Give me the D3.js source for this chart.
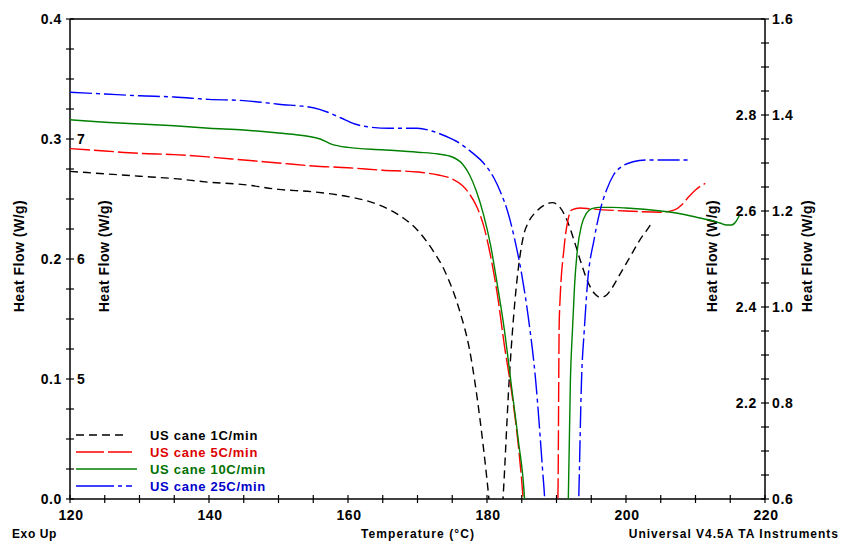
<!DOCTYPE html>
<html>
<head>
<meta charset="utf-8">
<script src="https://cdn.jsdelivr.net/npm/d3@7"></script>
<style>
  body { margin: 0; background: #fff; }
  svg { display: block; font-family: "Liberation Sans", Arial, sans-serif; font-weight: bold; }
</style>
</head>
<body>
<svg id="chart" width="842" height="544"></svg>
<script>
// Temperature (°C) and heat flow (W/g, read against the outer left axis)
const t1 = [120,125,130,135,140,145,150,155,160,163,166,168,170,172,174,176,177.5,179,180,180.8,181.5,182.3,183.2,183.8,185.2,186,187,188,189.4,190.5,191.5,192.5,193.5,194.5,195.5,196.3,197,198,199,200,201,202,203,203.7];
const hf1 = [0.273,0.271,0.269,0.267,0.264,0.262,0.258,0.256,0.252,0.248,0.241,0.234,0.224,0.209,0.189,0.158,0.124,0.066,0.016,-0.03,-0.06,0.0,0.1,0.15,0.218,0.231,0.239,0.244,0.247,0.243,0.2325,0.216,0.1975,0.181,0.171,0.168,0.169,0.176,0.186,0.196,0.206,0.216,0.224,0.23];

const t5 = [120,125,130,135,140,145,150,155,160,165,170,173,175,176.5,177.5,178.5,179.5,180.5,181.5,182.5,183.5,184.5,185.2,186,189.5,190.2,190.4,191.1,191.65,192.2,193.4,195,200,205,207,208,209,210,211.4];
const hf5 = [0.292,0.29,0.288,0.287,0.285,0.2825,0.28,0.2775,0.276,0.274,0.2725,0.27,0.2667,0.261,0.254,0.244,0.228,0.203,0.17,0.128,0.091,0.045,0.0,-0.08,-0.08,0.0,0.15,0.21,0.2325,0.241,0.2425,0.2417,0.24,0.239,0.241,0.245,0.2517,0.2575,0.263];

const t10 = [120,125,130,135,140,145,150,154,156,157.5,160,165,170,173,175,176.5,177.5,178.5,179.5,180.5,181.5,182.5,183.5,184.5,185.4,186,191,191.7,192,192.3,192.6,193,193.6,194.3,195,196,198,200,205,208,210,212,213.5,214.5,215.2,215.8,216.3];
const hf10 = [0.316,0.314,0.3125,0.311,0.309,0.3075,0.305,0.3025,0.3,0.296,0.293,0.291,0.289,0.2875,0.285,0.279,0.27,0.256,0.237,0.212,0.178,0.141,0.095,0.049,0.0,-0.08,-0.08,0.0,0.099,0.141,0.178,0.2075,0.228,0.238,0.2417,0.243,0.243,0.2425,0.24,0.2375,0.235,0.2325,0.23,0.2283,0.2283,0.231,0.236];

const t25 = [120,125,130,135,140,145,150,155,157,159,161,163,166,170,172,174,176,178,179.5,181,182,183,184,185,186,187,188,188.3,189,192.5,193.2,193.6,194,194.5,195.4,196.3,197.2,198.2,199.5,201,203,206,209.2];
const hf25 = [0.339,0.3375,0.336,0.335,0.333,0.332,0.329,0.326,0.3225,0.3175,0.3125,0.31,0.309,0.309,0.3067,0.3025,0.2967,0.288,0.28,0.2675,0.255,0.239,0.216,0.187,0.149,0.099,0.024,0.0,-0.12,-0.12,0.0,0.099,0.141,0.1825,0.216,0.241,0.2575,0.27,0.2775,0.281,0.2825,0.2825,0.2825];

const seriesNames = ["US cane 1C/min", "US cane 5C/min", "US cane 10C/min", "US cane 25C/min"];
const seriesColors = ["#000000", "#ff0000", "#008000", "#0000ff"];
const textColors = ["#000000", "#dd0000", "#007000", "#0000cc"];
const seriesDash = ["8,5", "20,4", null, "22,4,4,4"];
const seriesTemps = [t1, t5, t10, t25];
const seriesFlows = [hf1, hf5, hf10, hf25];

const leftTicks = [0.0, 0.1, 0.2, 0.3, 0.4];
const leftInnerTicks = [5, 6, 7];
const rightTicks = [0.6, 0.8, 1.0, 1.2, 1.4, 1.6];
const rightInnerTicks = [2.2, 2.4, 2.6, 2.8];
const xTicks = [120, 140, 160, 180, 200, 220];

const margin = { left: 70, right: 77, top: 19, bottom: 45 };
const width = 842, height = 544;
const x0 = margin.left, x1 = width - margin.right;
const y0 = height - margin.bottom, y1 = margin.top;

const svg = d3.select("#chart");

const x = d3.scaleLinear().domain([120, 220]).range([x0, x1]);
const y = d3.scaleLinear().domain([0, 0.4]).range([y0, y1]);
const yInner = d3.scaleLinear().domain([4, 8]).range([y0, y1]);
const yRight = d3.scaleLinear().domain([0.6, 1.6]).range([y0, y1]);
const yRightInner = d3.scaleLinear().domain([2.0, 3.0]).range([y0, y1]);

svg.append("defs").append("clipPath").attr("id", "clip")
  .append("rect").attr("x", x0).attr("y", y1).attr("width", x1 - x0).attr("height", y0 - y1);

// frame top line
svg.append("line").attr("x1", x0).attr("x2", x1).attr("y1", y1).attr("y2", y1)
  .attr("stroke", "#000").attr("stroke-width", 1.5);

// vertical axis with crossing ticks
function vAxis(xPos, scale, minorStep) {
  const g = svg.append("g");
  g.append("line").attr("x1", xPos).attr("x2", xPos).attr("y1", y1).attr("y2", y0)
    .attr("stroke", "#000").attr("stroke-width", 1.5);
  const [a, b] = scale.domain();
  const ticks = d3.range(a, b + minorStep / 2, minorStep);
  g.selectAll("line.tk").data(ticks).join("line").attr("class", "tk")
    .attr("x1", xPos - 4).attr("x2", xPos + 4)
    .attr("y1", d => scale(d)).attr("y2", d => scale(d))
    .attr("stroke", "#000").attr("stroke-width", 1.2);
  return g;
}

vAxis(x0, y, 0.025);
vAxis(x1, yRight, 0.05);

// bottom axis
const gx = svg.append("g");
gx.append("line").attr("x1", x0).attr("x2", x1).attr("y1", y0).attr("y2", y0)
  .attr("stroke", "#000").attr("stroke-width", 1.5);
gx.selectAll("line.tk").data(d3.range(120, 221, 5)).join("line").attr("class", "tk")
  .attr("x1", d => x(d)).attr("x2", d => x(d))
  .attr("y1", y0 - 4).attr("y2", y0 + 4)
  .attr("stroke", "#000").attr("stroke-width", 1.2);
gx.selectAll("text").data(xTicks).join("text")
  .attr("x", d => x(d) + 1).attr("y", y0 + 21)
  .attr("text-anchor", "middle").attr("font-size", 14).attr("letter-spacing", 0.6)
  .text(d => d);

// tick labels
const tickFont = sel => sel.attr("font-size", 14).attr("letter-spacing", 0.6);
svg.append("g").selectAll("text").data(leftTicks).join("text")
  .attr("x", x0 - 8).attr("y", d => y(d) + 5)
  .attr("text-anchor", "end").call(tickFont)
  .text(d => d.toFixed(1));
svg.append("g").selectAll("text").data(leftInnerTicks).join("text")
  .attr("x", x0 + 7).attr("y", d => yInner(d) + 5)
  .attr("text-anchor", "start").call(tickFont)
  .text(d => d);
svg.append("g").selectAll("text").data(rightTicks).join("text")
  .attr("x", x1 + 7).attr("y", d => yRight(d) + 5)
  .attr("text-anchor", "start").call(tickFont)
  .text(d => d.toFixed(1));
svg.append("g").selectAll("text").data(rightInnerTicks).join("text")
  .attr("x", x1 - 8).attr("y", d => yRightInner(d) + 5)
  .attr("text-anchor", "end").call(tickFont)
  .text(d => d.toFixed(1));

// axis titles
[24, 109, 717, 812].forEach(px => {
  svg.append("text")
    .attr("transform", `translate(${px},256) rotate(-90)`)
    .attr("text-anchor", "middle").attr("font-size", 14)
    .attr("letter-spacing", 0.5)
    .text("Heat Flow (W/g)");
});
svg.append("text").attr("x", 12).attr("y", 538).attr("font-size", 12).attr("letter-spacing", 0.6).text("Exo Up");
svg.append("text").attr("x", 418).attr("y", 538).attr("text-anchor", "middle").attr("font-size", 12).attr("letter-spacing", 1.1).text("Temperature (°C)");
svg.append("text").attr("x", 839).attr("y", 538).attr("text-anchor", "end").attr("font-size", 12).attr("letter-spacing", 1.0).text("Universal V4.5A TA Instruments");

// curves
const line = d3.line().x(d => x(d[0])).y(d => y(d[1])).curve(d3.curveMonotoneX);
const plot = svg.append("g").attr("clip-path", "url(#clip)");
seriesNames.forEach((name, i) => {
  const pts = d3.zip(seriesTemps[i], seriesFlows[i]);
  plot.append("path").datum(pts)
    .attr("fill", "none")
    .attr("stroke", seriesColors[i])
    .attr("stroke-width", 1.4)
    .attr("stroke-dasharray", seriesDash[i])
    .attr("d", line);
});

// legend
const legend = svg.append("g");
const legendEnds = [123, 132, 137, 132];
seriesNames.forEach((name, i) => {
  const ly = 435 + i * 17;
  legend.append("line")
    .attr("x1", 76).attr("x2", legendEnds[i])
    .attr("y1", ly).attr("y2", ly)
    .attr("stroke", seriesColors[i]).attr("stroke-width", 1.4)
    .attr("stroke-dasharray", i === 1 ? "28,4" : (i === 3 ? "38,4,4,4" : seriesDash[i]));
  legend.append("text")
    .attr("x", 150).attr("y", ly + 5)
    .attr("font-size", 13).attr("letter-spacing", 0.7)
    .attr("fill", textColors[i])
    .text(name);
});
</script>
</body>
</html>
